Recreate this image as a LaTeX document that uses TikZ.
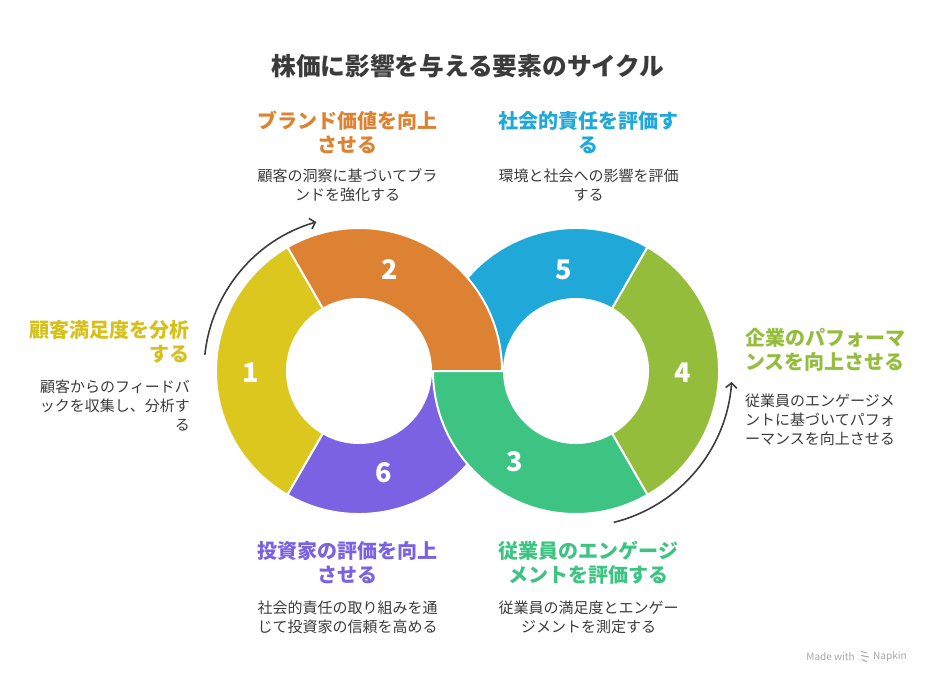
\documentclass[tikz,border=0pt]{standalone}
\usepackage{fontspec}
\setmainfont{Noto Sans CJK JP}
\usetikzlibrary{calc,arrows.meta}

\definecolor{segyellow}{HTML}{DCC71E}
\definecolor{segorange}{HTML}{DD8232}
\definecolor{segpurple}{HTML}{7B62E3}
\definecolor{segteal}{HTML}{3EC482}
\definecolor{segblue}{HTML}{20A8D8}
\definecolor{seglime}{HTML}{94BD3C}
\definecolor{headyellow}{HTML}{D6C11C}
\definecolor{textgray}{HTML}{3B3B3B}
\definecolor{arrowgray}{HTML}{3D3D3D}

\tikzset{
  head/.style={font=\bfseries\fontsize{20}{24}\selectfont, align=center, inner sep=0pt},
  desc/.style={font=\fontsize{15}{19}\selectfont, text=textgray, align=center, inner sep=0pt},
  num/.style={font=\bfseries\fontsize{27}{27}\selectfont, text=white, inner sep=0pt},
  seg/.style={draw=white, line width=2pt, line join=round},
  cyc/.style={draw=arrowgray, line width=1.6pt, -{Straight Barb[length=5pt,width=11pt]}},
}

% one piece of a ring: centre, from, to, colour
\newcommand{\ringseg}[4]{%
  \filldraw[seg, fill=#4] ($(#1)+(#2:143pt)$) arc[start angle=#2, end angle=#3, radius=143pt]
    -- ($(#1)+(#3:72pt)$) arc[start angle=#3, end angle=#2, radius=72pt] -- cycle;}

\begin{document}
\begin{tikzpicture}[x=1pt,y=1pt]
  \useasboundingbox (0,0) rectangle (936,-684);
  \coordinate (cL) at (359,-371);
  \coordinate (cR) at (576,-371);

  % title
  \node[font=\bfseries\fontsize{24.7}{30}\selectfont, text=textgray] (title) at (468,-66) {株価に影響を与える要素のサイクル};

  % rings, lower pieces first
  \ringseg{cL}{120}{240}{segyellow}
  \ringseg{cR}{60}{180}{segblue}
  \ringseg{cL}{240}{360}{segpurple}
  \ringseg{cR}{-60}{60}{seglime}
  \ringseg{cL}{0}{120}{segorange}
  \ringseg{cR}{180}{300}{segteal}

  % numbers
  \node[num] (n1) at (251,-373) {1};
  \node[num] (n2) at (390,-270) {2};
  \node[num] (n3) at (515,-462) {3};
  \node[num] (n4) at (683,-373) {4};
  \node[num] (n5) at (564,-270) {5};
  \node[num] (n6) at (384,-473) {6};

  % cycle arrows
  \draw[cyc] ($(cL)+(174:155pt)$) arc[start angle=174, end angle=106, radius=155pt];
  \draw[cyc] ($(cR)+(-76:156pt)$) arc[start angle=-76, end angle=-4, radius=156pt];

  % labels
  \node[head, text=headyellow, anchor=east, align=right] (h1) at (190,-342) {顧客満足度を分析\\する};
  \node[desc, anchor=east, align=right] (d1) at (190,-406) {顧客からのフィードバ\\ックを収集し、分析す\\る};

  \node[head, text=segorange] (h2) at (347.5,-132.5) {ブランド価値を向上\\させる};
  \node[desc] (d2) at (347.5,-185.5) {顧客の洞察に基づいてブラ\\ンドを強化する};

  \node[head, text=segblue] (h5) at (588.5,-132.5) {社会的責任を評価す\\る};
  \node[desc] (d5) at (588.5,-185.5) {環境と社会への影響を評価\\する};

  \node[head, text=seglime, anchor=west, align=left] (h4) at (745,-350) {企業のパフォーマ\\ンスを向上させる};
  \node[desc, anchor=west, align=left] (d4) at (745,-420) {従業員のエンゲージメ\\ントに基づいてパフォ\\ーマンスを向上させる};

  \node[head, text=segpurple] (h6) at (347.5,-563) {投資家の評価を向上\\させる};
  \node[desc] (d6) at (347.5,-617.5) {社会的責任の取り組みを通\\じて投資家の信頼を高める};

  \node[head, text=segteal] (h3) at (588.5,-563) {従業員のエンゲージ\\メントを評価する};
  \node[desc] (d3) at (588.5,-617.5) {従業員の満足度とエンゲー\\ジメントを測定する};

  % footer
  \node[font=\fontsize{10}{12}\selectfont, text=black!35, anchor=east, inner sep=0pt] (made) at (855,-657) {Made with};
  \node[font=\fontsize{10}{12}\selectfont, text=black!35, anchor=west, inner sep=0pt] (napkin) at (873,-657) {Napkin};
  \draw[black!35, line width=1pt] (861,-651.5) -- (867,-653) (861,-655.5) -- (869,-657) (862,-659.5) -- (867,-662);
\end{tikzpicture}
\end{document}
